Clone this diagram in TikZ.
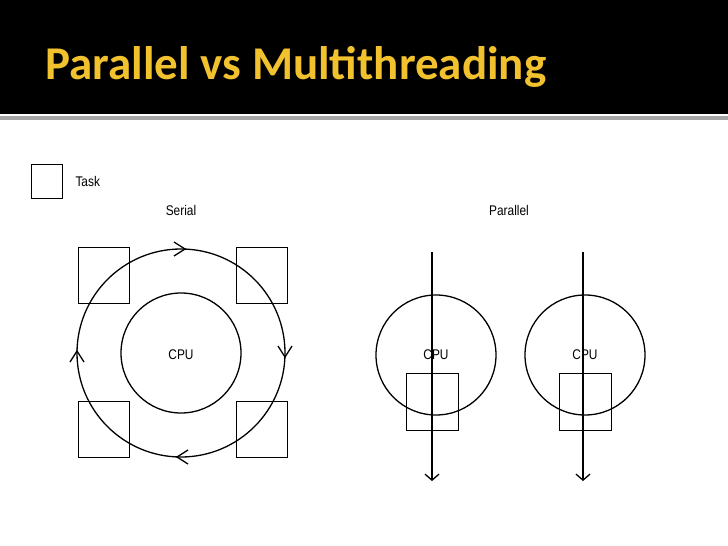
\documentclass[tikz,border=0pt]{standalone}
\usepackage{fontspec}
\setmainfont{Liberation Sans}
\newfontfamily\titlefont{Carlito}
\usetikzlibrary{arrows.meta}
\definecolor{gold}{HTML}{F2C12E}
\begin{document}
\begin{tikzpicture}[x=1pt,y=-1pt,
  box/.style={draw,line width=0.7pt},
  lbl/.style={font=\fontsize{14}{14}\selectfont\addfontfeatures{FakeStretch=0.85}},
  chev/.style={line width=1.3pt},
  arr/.style={line width=1.3pt,-{Straight Barb[length=6pt,width=14pt]}}]
\useasboundingbox (0,0) rectangle (728,546);
\fill[white] (0,0) rectangle (728,546);
\fill[black] (0,0) rectangle (728,114);
\fill[black!35] (0,116) rectangle (728,120);
\node[anchor=base west,text=gold,font=\titlefont\bfseries\fontsize{47}{47}\selectfont] (title) at (42,79) {Parallel vs Multithreading};
% legend
\draw[box] (31,164) rectangle (62,198);
\node[lbl,anchor=west] (task) at (72,181) {Task};
% serial
\node[lbl] (serial) at (181,210) {Serial};
\draw[line width=1.3pt] (181,353) circle (104);
\draw[line width=1.3pt] (181,353) circle (60);
\node[lbl] (cpu1) at (181,355) {CPU};
\draw[box] (78,247) rectangle (129,303);
\draw[box] (236,247) rectangle (287,303);
\draw[box] (78,401) rectangle (129,457);
\draw[box] (236,401) rectangle (287,457);
\draw[chev] (174,242) -- (185,249) -- (174,256);
\draw[chev] (278,346) -- (285,357) -- (292,346);
\draw[chev] (188,450) -- (177,457) -- (188,464);
\draw[chev] (70,362) -- (77,351) -- (84,362);
% parallel
\node[lbl] (parallel) at (509,210) {Parallel};
\draw[line width=1.3pt] (436,355) circle (60);
\draw[line width=1.3pt] (585,355) circle (60);
\node[lbl] (cpu2) at (436,355) {CPU};
\node[lbl] (cpu3) at (585,355) {CPU};
\draw[box] (406,373) rectangle (458,430);
\draw[box] (559,373) rectangle (611,430);
\coordinate (a1) at (432,252); \coordinate (b1) at (432,481);
\coordinate (a2) at (583,252); \coordinate (b2) at (583,481);
\draw[arr] (a1) -- (b1);
\draw[arr] (a2) -- (b2);
\end{tikzpicture}
\end{document}
